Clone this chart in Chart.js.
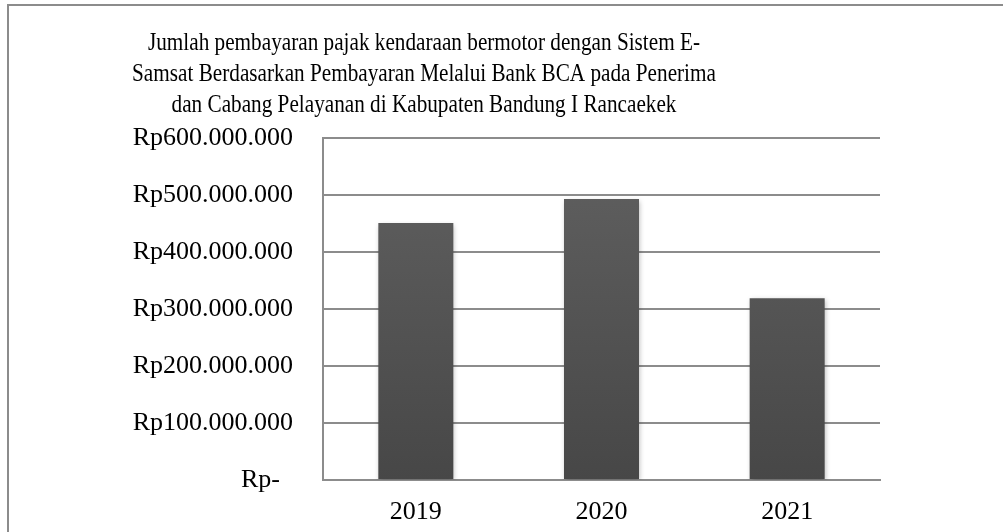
<!DOCTYPE html>
<html>
<head>
<meta charset="utf-8">
<script src="https://cdn.jsdelivr.net/npm/chart.js@4/dist/chart.umd.min.js"></script>
<style>
  html, body { margin: 0; padding: 0; background: #ffffff; }
  #wrap { position: relative; width: 1003px; height: 532px; }
  canvas { display: block; }
</style>
</head>
<body>
<div id="wrap"><canvas id="c" width="1003" height="532"></canvas></div>
<script>
const categories = ['2019', '2020', '2021'];
const paymentValues = [451000000, 493000000, 319000000];
const yTickLabels = ['Rp-  ', 'Rp100.000.000', 'Rp200.000.000', 'Rp300.000.000', 'Rp400.000.000', 'Rp500.000.000', 'Rp600.000.000'];
const titleLines = [
  'Jumlah pembayaran pajak kendaraan bermotor dengan Sistem E-',
  'Samsat Berdasarkan Pembayaran Melalui Bank BCA pada Penerima',
  'dan Cabang Pelayanan di Kabupaten Bandung I Rancaekek'
];

const FONT = '"Liberation Serif", "Times New Roman", serif';
const GRID = '#8c8c8c';

const decorPlugin = {
  id: 'decor',
  beforeDraw(chart) {
    const ctx = chart.ctx;
    ctx.save();
    ctx.fillStyle = '#ffffff';
    ctx.fillRect(0, 0, chart.width, chart.height);
    ctx.strokeStyle = GRID;
    ctx.lineWidth = 2;
    ctx.beginPath();
    ctx.moveTo(8, chart.height);
    ctx.lineTo(8, 5);
    ctx.lineTo(chart.width, 5);
    ctx.stroke();
    ctx.restore();
  },
  afterDraw(chart) {
    const ctx = chart.ctx;
    const sx = 0.816;
    ctx.save();
    ctx.fillStyle = '#000000';
    ctx.font = '26px ' + FONT;
    ctx.textAlign = 'center';
    ctx.textBaseline = 'alphabetic';
    ctx.translate(424, 0);
    ctx.scale(sx, 1);
    titleLines.forEach((t, i) => ctx.fillText(t, 0, 50 + i * 31));
    ctx.restore();
  },
  beforeDatasetsDraw(chart) {
    const ctx = chart.ctx;
    ctx.save();
    ctx.shadowColor = 'rgba(0,0,0,0.28)';
    ctx.shadowBlur = 5;
    ctx.shadowOffsetX = 1;
    ctx.shadowOffsetY = 2;
  },
  afterDatasetsDraw(chart) {
    chart.ctx.restore();
  }
};

function barGradient(context) {
  const chart = context.chart;
  const area = chart.chartArea;
  if (!area) return '#555555';
  const g = chart.ctx.createLinearGradient(0, area.top, 0, area.bottom);
  g.addColorStop(0, '#616161');
  g.addColorStop(1, '#474747');
  return g;
}

new Chart(document.getElementById('c'), {
  type: 'bar',
  data: {
    labels: categories,
    datasets: [{
      data: paymentValues,
      backgroundColor: barGradient,
      borderWidth: 0,
      categoryPercentage: 1.0,
      barPercentage: 0.404
    }]
  },
  options: {
    responsive: false,
    animation: false,
    devicePixelRatio: 1,
    layout: { padding: { top: 138, right: 123, bottom: 0, left: 0 } },
    plugins: {
      legend: { display: false },
      title: { display: false },
      tooltip: { enabled: false }
    },
    scales: {
      x: {
        afterFit(scale) { scale.height = 52; },
        grid: { display: false, drawTicks: false },
        border: { display: true, color: GRID, width: 2 },
        ticks: { color: '#000000', font: { family: FONT, size: 26 }, padding: 17, maxRotation: 0 }
      },
      y: {
        min: 0,
        max: 600000000,
        afterFit(scale) { scale.width = 323; },
        grid: { color: GRID, lineWidth: 2, drawTicks: false },
        border: { display: true, color: GRID, width: 2 },
        ticks: {
          stepSize: 100000000,
          color: '#000000',
          padding: 30,
          font: { family: FONT, size: 26 },
          callback: (v, i) => yTickLabels[i]
        }
      }
    }
  },
  plugins: [decorPlugin]
});
</script>
</body>
</html>
